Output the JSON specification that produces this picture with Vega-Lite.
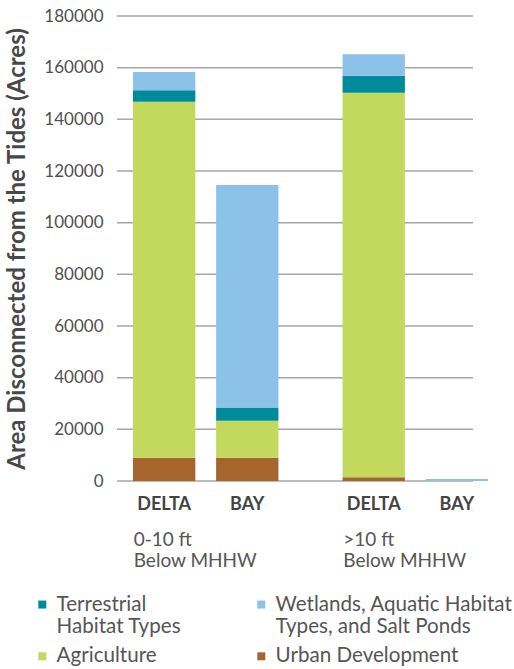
{
  "$schema": "https://vega.github.io/schema/vega-lite/v6.json",
  "width": 356,
  "height": 465,
  "autosize": "none",
  "padding": {"left": 117, "top": 16, "right": 41, "bottom": 188},
  "background": "white",
  "config": {"font": "Lato", "view": {"stroke": null}},
  "datasets": {
    "bars": [
      {"depth": "0-10 ft|Below MHHW", "region": "DELTA", "category": "Urban Development", "acres": 9000, "rank": 1},
      {"depth": "0-10 ft|Below MHHW", "region": "DELTA", "category": "Agriculture", "acres": 137800, "rank": 2},
      {"depth": "0-10 ft|Below MHHW", "region": "DELTA", "category": "Terrestrial|Habitat Types", "acres": 4500, "rank": 3},
      {"depth": "0-10 ft|Below MHHW", "region": "DELTA", "category": "Wetlands, Aquatic Habitat|Types, and Salt Ponds", "acres": 7000, "rank": 4},
      {"depth": "0-10 ft|Below MHHW", "region": "BAY", "category": "Urban Development", "acres": 9000, "rank": 1},
      {"depth": "0-10 ft|Below MHHW", "region": "BAY", "category": "Agriculture", "acres": 14300, "rank": 2},
      {"depth": "0-10 ft|Below MHHW", "region": "BAY", "category": "Terrestrial|Habitat Types", "acres": 5200, "rank": 3},
      {"depth": "0-10 ft|Below MHHW", "region": "BAY", "category": "Wetlands, Aquatic Habitat|Types, and Salt Ponds", "acres": 86100, "rank": 4},
      {"depth": ">10 ft|Below MHHW", "region": "DELTA", "category": "Urban Development", "acres": 1500, "rank": 1},
      {"depth": ">10 ft|Below MHHW", "region": "DELTA", "category": "Agriculture", "acres": 148800, "rank": 2},
      {"depth": ">10 ft|Below MHHW", "region": "DELTA", "category": "Terrestrial|Habitat Types", "acres": 6600, "rank": 3},
      {"depth": ">10 ft|Below MHHW", "region": "DELTA", "category": "Wetlands, Aquatic Habitat|Types, and Salt Ponds", "acres": 8300, "rank": 4},
      {"depth": ">10 ft|Below MHHW", "region": "BAY", "category": "Wetlands, Aquatic Habitat|Types, and Salt Ponds", "acres": 800, "rank": 4}
    ],
    "labels": [
      {"depth": "0-10 ft|Below MHHW", "region": "DELTA"},
      {"depth": "0-10 ft|Below MHHW", "region": "BAY"},
      {"depth": ">10 ft|Below MHHW", "region": "DELTA"},
      {"depth": ">10 ft|Below MHHW", "region": "BAY"}
    ],
    "grid": [
      {"v": 0}, {"v": 20000}, {"v": 40000}, {"v": 60000}, {"v": 80000},
      {"v": 100000}, {"v": 120000}, {"v": 140000}, {"v": 160000}, {"v": 180000}
    ]
  },
  "layer": [
    {
      "data": {"name": "grid"},
      "mark": {"type": "rule", "color": "#a6a6a6", "strokeWidth": 1.5},
      "encoding": {
        "y": {"field": "v", "type": "quantitative"}
      }
    },
    {
      "data": {"name": "bars"},
      "mark": {"type": "bar"},
      "encoding": {
        "x": {
          "field": "depth", "type": "nominal",
          "sort": ["0-10 ft|Below MHHW", ">10 ft|Below MHHW"],
          "scale": {"range": [16, 371], "paddingInner": 0.306, "paddingOuter": 0},
          "axis": {
            "title": null, "domain": false, "ticks": false, "labelAngle": 0,
            "labelAlign": "left", "labelBaseline": "top", "labelOffset": -72,
            "labelPadding": 49, "labelFontSize": 19, "labelColor": "#555",
            "labelLineHeight": 21, "labelExpr": "split(datum.label, '|')"
          }
        },
        "xOffset": {
          "field": "region", "type": "nominal", "sort": ["DELTA", "BAY"],
          "scale": {"paddingInner": 0.25, "paddingOuter": 0}
        },
        "y": {
          "field": "acres", "type": "quantitative", "stack": "zero",
          "scale": {"domain": [0, 180000]},
          "axis": {
            "title": "Area Disconnected from the Tides (Acres)",
            "tickCount": 9, "format": "d", "grid": false,
            "domain": false, "ticks": false, "labelPadding": 14,
            "labelFontSize": 17, "labelColor": "#505050",
            "titleFontSize": 24, "titleFontWeight": "bold", "titleColor": "#484848",
            "titlePadding": 14
          }
        },
        "color": {
          "field": "category", "type": "nominal",
          "scale": {
            "domain": ["Terrestrial|Habitat Types", "Agriculture", "Wetlands, Aquatic Habitat|Types, and Salt Ponds", "Urban Development"],
            "range": ["#008b9c", "#c2d95d", "#8cc2e8", "#a5652c"]
          },
          "legend": {
            "orient": "none", "legendX": -85, "legendY": 578, "columns": 2,
            "title": null, "symbolType": "square", "symbolSize": 64,
            "labelFontSize": 20.6, "labelColor": "#555", "labelLimit": 300,
            "labelExpr": "split(datum.label, '|')", "labelLineHeight": 22,
            "columnPadding": 69, "rowPadding": 8, "labelOffset": 4
          }
        },
        "order": {"field": "rank", "type": "quantitative"}
      }
    },
    {
      "data": {"name": "labels"},
      "mark": {"type": "text", "dy": 29, "baseline": "alphabetic", "fontWeight": "bold", "fontSize": 18, "color": "#444"},
      "encoding": {
        "x": {"field": "depth", "type": "nominal", "sort": ["0-10 ft|Below MHHW", ">10 ft|Below MHHW"]},
        "xOffset": {"field": "region", "type": "nominal", "sort": ["DELTA", "BAY"]},
        "y": {"datum": 0, "type": "quantitative"},
        "text": {"field": "region"}
      }
    }
  ]
}
